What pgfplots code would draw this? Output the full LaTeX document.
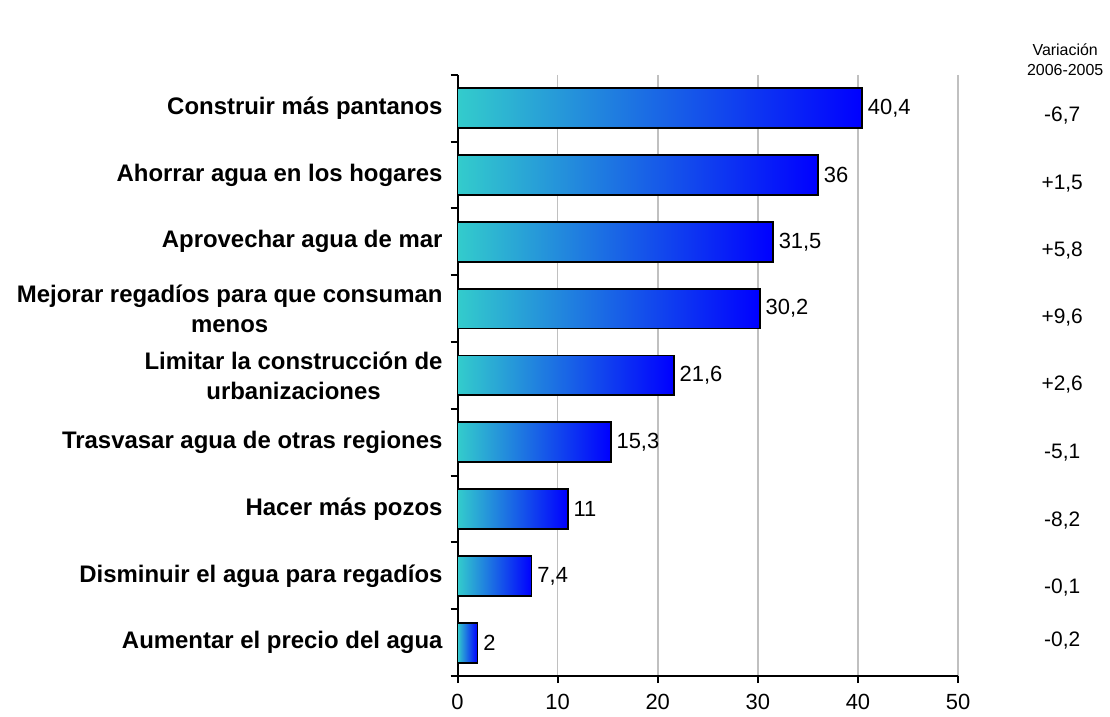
\documentclass[border=0pt]{standalone}
\usepackage{fontspec}
\setmainfont{Liberation Sans}
\usepackage{pgfplots}
\pgfplotsset{compat=1.18}

\definecolor{barL}{RGB}{51,204,204}
\definecolor{barR}{RGB}{0,0,255}
\definecolor{gridG}{RGB}{192,192,192}

% one bar per \addplot, so that each bar gets its own gradient
\pgfplotsset{
  barra/.style={xbar, bar width=20pt, bar shift=0pt,
    draw=black, line width=0.9pt,
    left color=barL, right color=barR,
    nodes near coords,
    nodes near coords style={font=\fontsize{11}{13}\selectfont, inner sep=2.5pt, text=black}}
}

\begin{document}
\begin{tikzpicture}
\begin{axis}[
  scale only axis, width=251pt, height=301.5pt,
  xmin=0, xmax=50, ymin=-0.5, ymax=8.5, y dir=reverse,
  clip=false,
  axis lines*=left,
  axis line style={black, line width=1pt},
  xtick={0,10,...,50},
  xmajorgrids,
  major grid style={gridG, line width=0.8pt},
  tick align=outside, major tick length=3.5pt,
  tick style={black, line width=1pt},
  ytick={-0.5,0.5,...,8.5},
  yticklabels={},
  extra y ticks={0,...,8},
  extra y tick labels={
    Construir más pantanos,
    Ahorrar agua en los hogares,
    Aprovechar agua de mar,
    {Mejorar regadíos para que consuman\\menos},
    {Limitar la construcción de\\urbanizaciones},
    Trasvasar agua de otras regiones,
    Hacer más pozos,
    Disminuir el agua para regadíos,
    Aumentar el precio del agua},
  extra y tick style={major tick length=0pt, grid=none,
    tick label style={font=\bfseries\fontsize{12}{15}\selectfont, align=center, xshift=-4pt}},
  x tick label style={font=\fontsize{11}{13}\selectfont, yshift=-2pt},
  /pgf/number format/use comma,
  /pgf/number format/assume math mode=true,
]
\addplot[barra] coordinates {(40.4,0)};
\addplot[barra] coordinates {(36,1)};
\addplot[barra] coordinates {(31.5,2)};
\addplot[barra] coordinates {(30.2,3)};
\addplot[barra] coordinates {(21.6,4)};
\addplot[barra] coordinates {(15.3,5)};
\addplot[barra] coordinates {(11,6)};
\addplot[barra] coordinates {(7.4,7)};
\addplot[barra] coordinates {(2,8)};

% variación 2006-2005, columna de la derecha
\addplot[only marks, mark=none, point meta=explicit symbolic,
  nodes near coords,
  nodes near coords style={anchor=center, font=\fontsize{10.5}{12}\selectfont, text=black}]
  table[meta=lab] {
x    y    lab
60.4 0.11 -6,7
60.4 1.13 +1,5
60.4 2.13 +5,8
60.4 3.14 +9,6
60.4 4.14 +2,6
60.4 5.16 -5,1
60.4 6.17 -8,2
60.4 7.17 -0,1
60.4 7.97 -0,2
};

\node[align=center, font=\fontsize{8}{10}\selectfont] at (axis cs:60.7,-0.72) {Variación\\2006-2005};
\path (axis cs:-45.7,-1.62) rectangle (axis cs:64.85,9.02);
\end{axis}
\end{tikzpicture}
\end{document}
